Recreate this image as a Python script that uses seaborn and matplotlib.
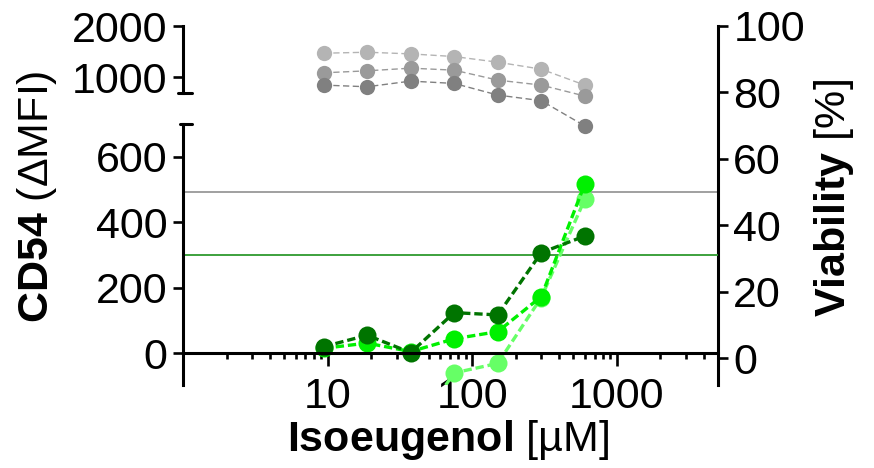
import numpy as np
import pandas as pd
import matplotlib
matplotlib.use("Agg")
import matplotlib.pyplot as plt
import seaborn as sns
from matplotlib.ticker import FixedLocator, NullFormatter, FixedFormatter
from matplotlib.lines import Line2D

# ---------------- data ----------------
conc = [9.375, 18.75, 37.5, 75, 150, 300, 600]
cd54_dark = [20, 55, 2, 124, 117, 307, 358]
cd54_bright = [15, 31, 5, 44, 66, 173, 517]
cd54_light = [np.nan, np.nan, -250, -60, -31, 170, 470]
via_light = [91.8, 92.1, 91.6, 90.8, 89.1, 87.0, 82.2]
via_mid = [85.9, 86.5, 87.3, 86.7, 83.7, 82.2, 78.9]
via_dark = [82.2, 81.7, 83.4, 82.7, 79.2, 77.5, 69.9]
cd54_cutoff = 300
via_cutoff = 50
x_major = [10, 100, 1000]
x_labels = ["10", "100", "1000"]
x_minor = [m * 10 ** k for k in range(0, 4) for m in range(2, 10) if m * 10 ** k < 5000]
cd54_low_ticks = [0, 200, 400, 600]
cd54_high_ticks = [1000, 2000]
via_ticks = [0, 20, 40, 60, 80, 100]

# ---------------- style ----------------
sns.set_style("ticks")
plt.rcParams['font.family'] = ['Liberation Sans', 'DejaVu Sans']
plt.rcParams['mathtext.fontset'] = 'custom'
plt.rcParams['mathtext.rm'] = 'Liberation Sans'
plt.rcParams['mathtext.bf'] = 'Liberation Sans:bold'
plt.rcParams['lines.scale_dashes'] = False
for k in ('text.color', 'axes.labelcolor', 'xtick.color', 'ytick.color',
          'axes.edgecolor'):
    plt.rcParams[k] = 'black'

FS = 31
SPW = 2.2
TW = 1.9

W, H = 874, 468
fig = plt.figure(figsize=(W / 100, H / 100), dpi=100)


def rect(l, t, r, b):
    return [l / W, 1 - b / H, (r - l) / W, (b - t) / H]


ax_r = fig.add_axes(rect(183, 26, 718, 385))
ax_low = fig.add_axes(rect(183, 124, 718, 385))
ax_high = fig.add_axes(rect(183, 26, 718, 93))

for ax in (ax_r, ax_low, ax_high):
    ax.set_facecolor('none')
    ax.set_xscale('log')
    ax.set_xlim(1, 5000)
    for s in ax.spines.values():
        s.set_linewidth(SPW)
        s.set_color('black')

# ---------------- right axis: viability ----------------
gray_dash = (0, (4.5, 2.5))
for vals, col in ((via_light, '#b4b4b4'), (via_mid, '#9a9a9a'), (via_dark, '#808080')):
    sns.lineplot(x=conc, y=vals, ax=ax_r, color=col, marker='o', markersize=11,
                 markeredgewidth=0, linewidth=1.0, linestyle=gray_dash)
ax_r.axhline(via_cutoff, color='#999999', linewidth=1.3, zorder=0.5)
ax_r.set_ylim(-8.13, 100)
for s in ('top', 'left', 'bottom'):
    ax_r.spines[s].set_visible(False)
ax_r.yaxis.tick_right()
ax_r.yaxis.set_major_locator(FixedLocator(via_ticks))
ax_r.tick_params(axis='y', which='both', direction='out', length=7, width=TW,
                 labelsize=FS, pad=4, colors='black')
ax_r.tick_params(axis='x', which='both', bottom=False, labelbottom=False)
ax_r.set_xlabel('')
ax_r.set_ylabel('')

# ---------------- lower-left axis: CD54 ----------------
green_dash = (0, (6, 2.8))
ax_low.axhline(cd54_cutoff, color='#2e9a2e', linewidth=1.3, zorder=0.5)
for vals, col in ((cd54_light, '#66ff66'), (cd54_bright, '#00f000'), (cd54_dark, '#007400')):
    sns.lineplot(x=conc, y=vals, ax=ax_low, color=col, marker='o', markersize=13,
                 markeredgewidth=0, linewidth=2.4, linestyle=green_dash)
ax_low.set_ylim(-97, 700)
ax_low.spines['top'].set_visible(False)
ax_low.spines['right'].set_visible(False)
ax_low.spines['bottom'].set_position(('data', 0))
ax_low.yaxis.set_major_locator(FixedLocator(cd54_low_ticks))
ax_low.xaxis.set_major_locator(FixedLocator(x_major))
ax_low.xaxis.set_major_formatter(FixedFormatter(x_labels))
ax_low.xaxis.set_minor_locator(FixedLocator(x_minor))
ax_low.xaxis.set_minor_formatter(NullFormatter())
ax_low.tick_params(axis='y', direction='out', length=7, width=TW, labelsize=FS, pad=4,
                   colors='black')
ax_low.tick_params(axis='x', which='major', direction='out', length=9, width=TW,
                   labelsize=FS, pad=8, colors='black')
ax_low.tick_params(axis='x', which='minor', direction='out', length=4.5, width=TW,
                   colors='black')
ax_low.set_xlabel('')
ax_low.set_ylabel('')

# ---------------- upper-left axis (broken part) ----------------
ax_high.set_ylim(694, 2000)
for s in ('top', 'right', 'bottom'):
    ax_high.spines[s].set_visible(False)
ax_high.yaxis.set_major_locator(FixedLocator(cd54_high_ticks))
ax_high.tick_params(axis='y', direction='out', length=7, width=TW, labelsize=FS, pad=4,
                    colors='black')
ax_high.tick_params(axis='x', which='both', bottom=False, labelbottom=False)
ax_high.set_xlabel('')
ax_high.set_ylabel('')

# break caps on the left axis
for (x0, x1, y) in ((178, 192, 93), (180, 192, 124)):
    fig.add_artist(Line2D([x0 / W, x1 / W], [1 - y / H, 1 - y / H],
                          transform=fig.transFigure, color='black', linewidth=SPW))

# ---------------- axis titles ----------------
fig.text(37 / W, 1 - 197 / H, r'$\mathbf{CD54}$ (ΔMFI)', rotation=90,
         ha='center', va='center', fontsize=FS, color='black')
fig.text(834 / W, 1 - 198 / H, r'$\mathbf{Viability}$ [%]', rotation=90,
         ha='center', va='center', fontsize=FS, color='black')
fig.text(448 / W, 1 - 440 / H, r'$\mathbf{Isoeugenol}$ [µM]',
         ha='center', va='center', fontsize=FS, color='black')

fig.savefig('out.png', dpi=100)
